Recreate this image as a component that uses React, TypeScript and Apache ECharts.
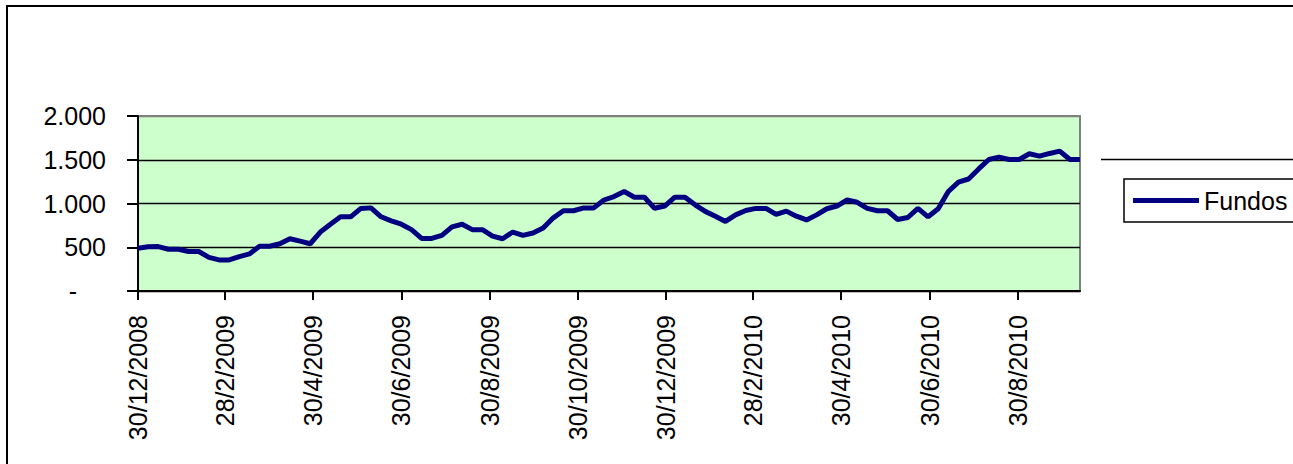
import { useEffect, useRef } from "react";
import * as echarts from "echarts";

// dias desde 30/12/2008 onde ficam os rótulos do eixo X
const tickDays = [0, 60, 121, 182, 243, 304, 365, 425, 486, 547, 608];
const tickLabels = [
  "30/12/2008",
  "28/2/2009",
  "30/4/2009",
  "30/6/2009",
  "30/8/2009",
  "30/10/2009",
  "30/12/2009",
  "28/2/2010",
  "30/4/2010",
  "30/6/2010",
  "30/8/2010",
];

const yTicks = [0, 500, 1000, 1500, 2000];
const yLabels = ["-", "500", "1.000", "1.500", "2.000"];

// valores semanais a partir de 30/12/2008
const fundos = [
  489, 505, 508, 477, 477, 451, 451, 385, 355, 355,
  393, 424, 512, 512, 540, 597, 570, 540, 674, 763,
  848, 848, 944, 950, 848, 802, 763, 701, 601, 601,
  636, 732, 763, 701, 701, 628, 597, 674, 636, 663,
  720, 836, 917, 917, 950, 950, 1040, 1079, 1137, 1072,
  1072, 945, 971, 1072, 1072, 985, 910, 855, 795, 870,
  920, 944, 944, 875, 913, 855, 812, 870, 940, 971,
  1040, 1014, 944, 917, 917, 817, 840, 944, 848, 940,
  1137, 1245, 1280, 1395, 1503, 1530, 1503, 1503, 1569, 1541,
  1572, 1599, 1503, 1503,
];

const FONT = "'Liberation Sans', Arial, sans-serif";

export default function App() {
  const chartRef = useRef<HTMLDivElement | null>(null);

  useEffect(() => {
    if (!chartRef.current) return;
    const chart = echarts.init(chartRef.current, undefined, { renderer: "svg" });

    const points = fundos.map((v, i) => [i * 7, v]);
    const lastDay = (fundos.length - 1) * 7;

    const option: any = {
      animation: false,
      backgroundColor: "#ffffff",
      textStyle: { fontFamily: FONT },
      grid: {
        left: 138,
        right: 1293 - 1080,
        top: 116,
        bottom: 464 - 291,
        show: true,
        backgroundColor: "#CCFFCC",
        borderColor: "#808080",
        borderWidth: 2,
        outerBoundsMode: "none",
      },
      legend: {
        show: true,
        left: 1124,
        top: 179,
        orient: "vertical",
        padding: [9, 12, 9, 9],
        borderColor: "#000000",
        borderWidth: 1.5,
        backgroundColor: "#ffffff",
        icon: "rect",
        itemWidth: 66,
        itemHeight: 5,
        itemGap: 5,
        textStyle: { color: "#000000", fontSize: 25, fontFamily: FONT, lineHeight: 24 },
        data: ["Fundos"],
      },
      xAxis: {
        type: "value",
        min: 0,
        max: lastDay,
        axisLine: { show: true, onZero: true, lineStyle: { color: "#000000", width: 2 } },
        axisTick: {
          show: true,
          length: 9,
          customValues: tickDays,
          lineStyle: { color: "#000000", width: 2 },
        },
        axisLabel: {
          show: true,
          customValues: tickDays,
          rotate: 90,
          margin: 24,
          color: "#000000",
          fontSize: 25,
          fontFamily: FONT,
          formatter: (v: number) => {
            const idx = tickDays.indexOf(Math.round(v));
            return idx >= 0 ? tickLabels[idx] : "";
          },
        },
        splitLine: { show: false },
      },
      yAxis: {
        type: "value",
        min: 0,
        max: 2000,
        interval: 500,
        axisLine: { show: true, lineStyle: { color: "#000000", width: 2 } },
        axisTick: { show: true, length: 11, lineStyle: { color: "#000000", width: 2 } },
        axisLabel: {
          margin: 32,
          color: "#000000",
          fontSize: 25,
          fontFamily: FONT,
          formatter: (v: number) => {
            const idx = yTicks.indexOf(v);
            if (idx === 0) return "{z|-}";
            return idx >= 0 ? yLabels[idx] : "";
          },
          rich: {
            z: { fontSize: 25, fontFamily: FONT, color: "#000000", padding: [0, 29, 0, 0] },
          },
        },
        splitLine: {
          show: true,
          lineStyle: {
            color: ["#000000", "#000000", "#000000", "#000000", "#808080"],
            width: 1.3,
          },
        },
      },
      graphic: [
        {
          type: "rect",
          shape: { x: 7, y: 6, width: 1400, height: 600 },
          style: { fill: "none", stroke: "#000000", lineWidth: 2 },
          silent: true,
          z: 100,
        },
        {
          type: "line",
          shape: { x1: 1101, y1: 159.5, x2: 1300, y2: 159.5 },
          style: { stroke: "#000000", lineWidth: 1.5 },
          silent: true,
        },
      ],
      series: [
        {
          name: "Fundos",
          type: "line",
          data: points,
          symbol: "none",
          showSymbol: false,
          lineStyle: { color: "#000080", width: 5 },
          itemStyle: { color: "#000080" },
        },
      ],
    };

    chart.setOption(option);

    return () => {
      chart.dispose();
    };
  }, []);

  return (
    <div
      ref={chartRef}
      style={{ position: "fixed", left: 0, top: 0, width: 1293, height: 464 }}
    />
  );
}
